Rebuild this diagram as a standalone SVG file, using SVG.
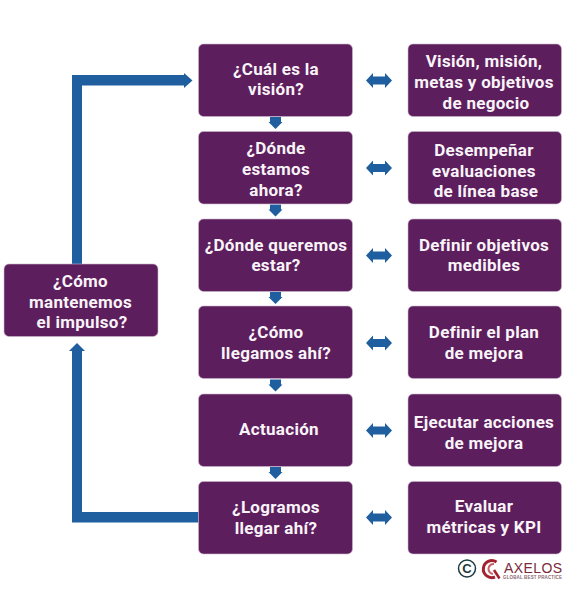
<svg xmlns="http://www.w3.org/2000/svg" width="569" height="598" viewBox="0 0 569 598">
<style>
.box{fill:#5d1e5d;stroke:#c9b6cc;stroke-width:.6}
.t{font-family:"Roboto","Liberation Sans",sans-serif;font-weight:700;font-size:17px;fill:#f8f4f8;text-anchor:middle;letter-spacing:.3px}
.c{fill:#1f5f9f}
</style>
<defs>
<path id="d" class="c" d="M-5.500-5H5.500V0H7L0 7-7 0H-5.500Z"/>
<path id="h" class="c" d="M-13 0-6-7.500V-4H6V-7.500L13 0 6 7.500V4H-6V7.500Z"/>
</defs>
<rect width="569" height="598" fill="#fff"/>
<g id="connectors">
<path class="c" d="M198.500 522.500H72V351H69L77 343 85 351H82V512H198.500Z"/>
<path class="c" d="M72 264V75H184V73L192.500 80.500 184 88V85.500H82V264Z"/>
<use href="#d" x="275.500" y="122"/>
<use href="#d" x="275.500" y="209.500"/>
<use href="#d" x="275.500" y="297"/>
<use href="#d" x="275.500" y="384.500"/>
<use href="#d" x="275.500" y="472"/>
<use href="#h" x="379" y="80.500"/>
<use href="#h" x="379" y="168"/>
<use href="#h" x="379" y="255.500"/>
<use href="#h" x="379" y="343"/>
<use href="#h" x="379" y="430.500"/>
<use href="#h" x="379" y="517.500"/>
</g>
<g id="n-left"><rect class="box" x="4" y="264" width="154" height="72.500" rx="5"/><text class="t" x="80.500" y="286.500">¿Cómo</text><text class="t" x="80.500" y="307.500">mantenemos</text><text class="t" x="82" y="328">el impulso?</text></g>
<g id="q1"><rect class="box" x="198.500" y="44" width="154" height="72.500" rx="5"/><text class="t" x="276" y="74.500">¿Cuál es la</text><text class="t" x="276" y="95">visión?</text></g>
<g id="q2"><rect class="box" x="198.500" y="131.500" width="154" height="72.500" rx="5"/><text class="t" x="276" y="154">¿Dónde</text><text class="t" x="276" y="175">estamos</text><text class="t" x="276" y="196">ahora?</text></g>
<g id="q3"><rect class="box" x="198.500" y="219" width="154" height="72.500" rx="5"/><text class="t" x="276" y="250.500">¿Dónde queremos</text><text class="t" x="276" y="271">estar?</text></g>
<g id="q4"><rect class="box" x="198.500" y="306" width="154" height="72.500" rx="5"/><text class="t" x="276" y="338">¿Cómo</text><text class="t" x="276" y="359">llegamos ahí?</text></g>
<g id="q5"><rect class="box" x="198.500" y="394" width="154" height="72.500" rx="5"/><text class="t" x="279" y="435">Actuación</text></g>
<g id="q6"><rect class="box" x="198.500" y="481.500" width="154" height="72.500" rx="5"/><text class="t" x="276" y="513">¿Logramos</text><text class="t" x="276" y="534">llegar ahí?</text></g>
<g id="a1"><rect class="box" x="408" y="44" width="153.500" height="72.500" rx="5"/><text class="t" x="484" y="67">Visión, misión,</text><text class="t" x="484" y="88">metas y objetivos</text><text class="t" x="486" y="108.500">de negocio</text></g>
<g id="a2"><rect class="box" x="408" y="131.500" width="153.500" height="72.500" rx="5"/><text class="t" x="484" y="156">Desempeñar</text><text class="t" x="484" y="177">evaluaciones</text><text class="t" x="486" y="197">de línea base</text></g>
<g id="a3"><rect class="box" x="408" y="219" width="153.500" height="72.500" rx="5"/><text class="t" x="484" y="250.500">Definir objetivos</text><text class="t" x="484" y="271">medibles</text></g>
<g id="a4"><rect class="box" x="408" y="306" width="153.500" height="72.500" rx="5"/><text class="t" x="484" y="338">Definir el plan</text><text class="t" x="484" y="359">de mejora</text></g>
<g id="a5"><rect class="box" x="408" y="394" width="153.500" height="72.500" rx="5"/><text class="t" x="484" y="428">Ejecutar acciones</text><text class="t" x="484" y="449">de mejora</text></g>
<g id="a6"><rect class="box" x="408" y="481.500" width="153.500" height="72.500" rx="5"/><text class="t" x="484" y="512">Evaluar</text><text class="t" x="484" y="533">métricas y KPI</text></g>
<g id="logo">
<circle cx="467" cy="568.500" r="8.500" fill="none" stroke="#1d3b3e" stroke-width="1.500"/>
<text x="467" y="573" font-family="Liberation Sans,sans-serif" font-size="13" font-weight="700" fill="#1d3b3e" text-anchor="middle">C</text>
<g transform="translate(-3 0)">
<path d="M498 577A8.500 8.500 0 1 1 499.500 562" fill="none" stroke="#a3212f" stroke-width="3"/>
<path d="M496 574A5 5 0 1 1 497 564" fill="none" stroke="#c9606a" stroke-width="2"/>
<path d="M497 570 502.500 578.500" fill="none" stroke="#a3212f" stroke-width="2.500"/>
</g>
<text x="504" y="572.500" font-family="Liberation Sans,sans-serif" font-size="14" fill="#7a2a3a" textLength="58">AXELOS</text>
<text x="503" y="578.500" font-family="Liberation Sans,sans-serif" font-size="4.500" font-weight="700" fill="#8a6a72" textLength="59">GLOBAL BEST PRACTICE</text>
</g>
</svg>
